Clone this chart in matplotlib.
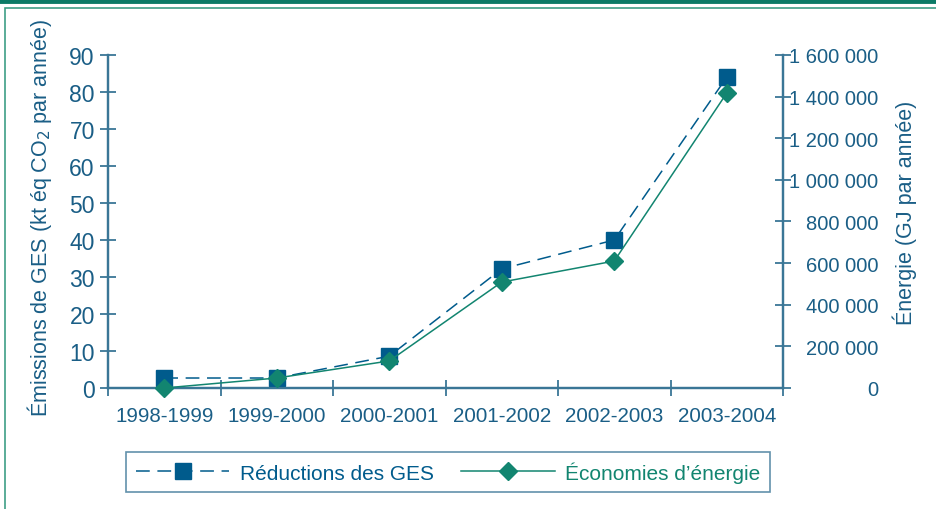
import matplotlib
matplotlib.use("Agg")
import matplotlib.pyplot as plt
from matplotlib.lines import Line2D
from matplotlib.patches import Rectangle
from matplotlib.ticker import FuncFormatter, FixedLocator

plt.rcParams['font.family'] = ['Liberation Sans', 'DejaVu Sans']

categories = ["1998-1999", "1999-2000", "2000-2001", "2001-2002", "2002-2003", "2003-2004"]
ges = [2.7, 2.7, 8.6, 32.2, 40.0, 84.0]
energie = [0, 48000, 130000, 509000, 610000, 1417000]
left_ticks = [0, 10, 20, 30, 40, 50, 60, 70, 80, 90]
right_ticks = [0, 200000, 400000, 600000, 800000, 1000000, 1200000, 1400000, 1600000]

BLUE = "#005B8C"
TEAL = "#128570"
AXC = "#3A7696"
TXT = "#1A5E86"

fig = plt.figure(figsize=(9.36, 5.10), dpi=100)
ax = fig.add_axes([108/936, 1-389/510, 675/936, 333/510])
ax2 = ax.twinx()

x = list(range(len(categories)))
l1, = ax.plot(x, ges, color=BLUE, lw=1.1, dashes=(9, 5), marker='s', markersize=11,
              markerfacecolor=BLUE, markeredgecolor=BLUE, zorder=3, clip_on=False)
l2, = ax2.plot(x, energie, color=TEAL, lw=1.1, marker='D', markersize=9.5,
               markerfacecolor=TEAL, markeredgecolor=TEAL, zorder=4, clip_on=False)

ax.set_xlim(-0.5, 5.5)
ax.set_ylim(0, 90)
ax2.set_ylim(0, 1600000)

for a in (ax, ax2):
    a.spines['top'].set_visible(False)
    for s in ('left', 'right', 'bottom'):
        a.spines[s].set_color(AXC)
        a.spines[s].set_linewidth(1.6)

ax.set_yticks(left_ticks)
ax.tick_params(axis='y', direction='inout', length=11, width=1.3, color=AXC,
               labelsize=16.5, labelcolor=TXT, pad=4)
ax2.set_yticks(right_ticks)
ax2.yaxis.set_major_formatter(FuncFormatter(lambda v, p: f"{int(v):,}".replace(",", " ")))
ax2.tick_params(axis='y', direction='inout', length=11, width=1.3, color=AXC,
                labelsize=14.5, labelcolor=TXT, pad=63)
for lab in ax2.get_yticklabels():
    lab.set_horizontalalignment('right')

ax.set_xticks(x)
ax.set_xticklabels(categories)
ax.tick_params(axis='x', which='major', length=0, labelsize=14.8, labelcolor=TXT, pad=13)
ax.xaxis.set_minor_locator(FixedLocator([i - 0.5 for i in range(len(categories) + 1)]))
ax.tick_params(axis='x', which='minor', direction='inout', length=11, width=1.3, color=AXC)

fig.text(40/936, 1-218/510, "Émissions de GES (kt éq CO$_2$ par année)", rotation=90,
         ha='center', va='center', fontsize=15.5, color=TXT)
fig.text(905/936, 1-213/510, "Énergie (GJ par année)", rotation=90,
         ha='center', va='center', fontsize=15.5, color=TXT)

leg = fig.legend([l1, l2], ["Réductions des GES", "Économies d’énergie"],
                 loc='center', bbox_to_anchor=(448/936, 1-473/510), ncol=2,
                 fontsize=15, frameon=True, fancybox=False, edgecolor=AXC,
                 handlelength=4.5, handletextpad=0.5, columnspacing=1.3, borderpad=0.45)
leg.get_frame().set_linewidth(1.2)
leg.get_texts()[0].set_color(BLUE)
leg.get_texts()[1].set_color(TEAL)

# Outer decorations
fig.add_artist(Line2D([0, 1], [1 - 2/510, 1 - 2/510], color="#0B7A66", lw=3.5))
fig.add_artist(Rectangle((5/936, -0.01), 1.0, 1 - 9/510 + 0.01, transform=fig.transFigure,
                         fill=False, edgecolor="#3E9E86", lw=1.2))

fig.savefig("out.png", dpi=100)
